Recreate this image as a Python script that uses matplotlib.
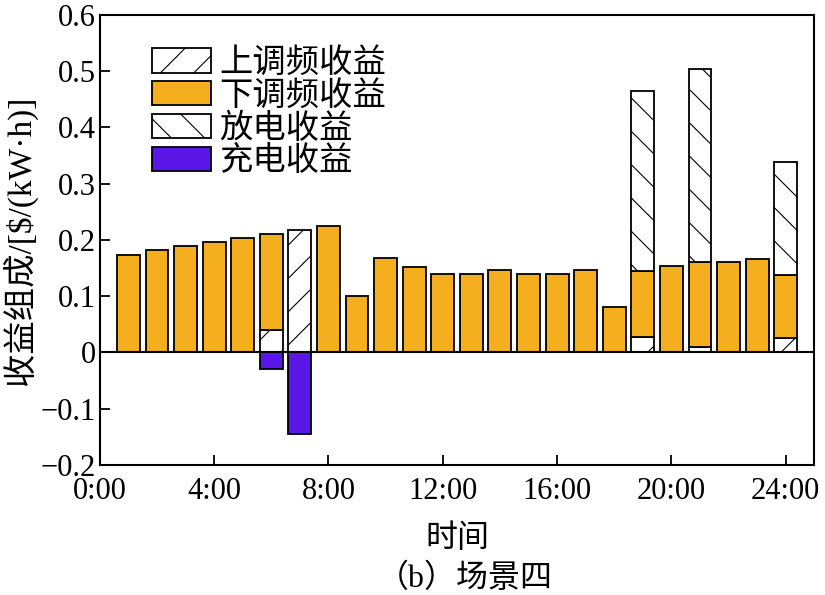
import numpy as np
import matplotlib
matplotlib.use('Agg')
import matplotlib.pyplot as plt
from matplotlib.patches import Patch

plt.rcParams['font.family'] = ['Liberation Serif', 'Noto Sans CJK SC']
plt.rcParams['hatch.linewidth'] = 0.8
plt.rcParams['axes.unicode_minus'] = True

# 数据
horas = np.arange(1, 25)
# 上调频收益
up_freq = [0, 0, 0, 0, 0, 0.040, 0.218, 0, 0, 0, 0, 0,
           0, 0, 0, 0, 0, 0, 0.028, 0, 0.010, 0, 0, 0.025]
# 下调频收益
down_freq = [0.173, 0.182, 0.189, 0.196, 0.203, 0.170, 0, 0.225, 0.100, 0.168, 0.152, 0.140,
             0.140, 0.147, 0.140, 0.140, 0.147, 0.081, 0.117, 0.153, 0.150, 0.160, 0.167, 0.113]
# 放电收益
discharge = [0, 0, 0, 0, 0, 0, 0, 0, 0, 0, 0, 0,
             0, 0, 0, 0, 0, 0, 0.320, 0, 0.344, 0, 0, 0.201]
# 充电收益
charge = [0, 0, 0, 0, 0, -0.030, -0.145, 0, 0, 0, 0, 0,
          0, 0, 0, 0, 0, 0, 0, 0, 0, 0, 0, 0]

rotulos_x = ['0:00', '4:00', '8:00', '12:00', '16:00', '20:00', '24:00']

laranja = '#F5AF1E'
roxo = '#5B17E8'

fig = plt.figure(figsize=(8.25, 5.95), dpi=100)
ax = fig.add_axes([0.121, 0.2185, 0.866, 0.7565])

up = np.array(up_freq)
down = np.array(down_freq)
dis = np.array(discharge)
ch = np.array(charge)
w = 0.8
kw = dict(width=w, edgecolor='black', linewidth=1.3)

def barras(vals, base, **opts):
    m = vals != 0
    ax.bar(horas[m], vals[m], bottom=base[m], **kw, **opts)

barras(up, np.zeros(24), color='white', hatch='/')
barras(down, up, color=laranja)
barras(dis, up + down, color='white', hatch='\\')
barras(ch, np.zeros(24), color=roxo)

ax.axhline(0, color='black', linewidth=1.5, zorder=3)

ax.set_xlim(0, 25)
ax.set_ylim(-0.2, 0.6)
ax.set_xticks(range(0, 25, 4))
ax.set_xticklabels(rotulos_x)
ax.set_yticks(np.arange(-0.2, 0.61, 0.1))
ax.set_yticklabels(['\u22120.2', '\u22120.1', '0', '0.1', '0.2', '0.3', '0.4', '0.5', '0.6'])
ax.tick_params(direction='in', length=7, width=1.3, labelsize=22)
ax.tick_params(axis='x', pad=9)
ax.tick_params(axis='y', pad=3)
for s in ax.spines.values():
    s.set_linewidth(1.5)

ax.set_ylabel('收益组成/[$/(kW·h)]', fontsize=24, labelpad=2)
fig.text(0.554, 0.094, '时间', ha='center', va='center', fontsize=23)
fig.text(0.564, 0.028, '（b）场景四', ha='center', va='center', fontsize=23)

handles = [Patch(facecolor='white', edgecolor='black', hatch='/', linewidth=1.3),
           Patch(facecolor=laranja, edgecolor='black', linewidth=1.3),
           Patch(facecolor='white', edgecolor='black', hatch='\\', linewidth=1.3),
           Patch(facecolor=roxo, edgecolor='black', linewidth=1.3)]
ax.legend(handles, ['上调频收益', '下调频收益', '放电收益', '充电收益'],
          loc='upper left', bbox_to_anchor=(0.055, 0.955), frameon=False,
          fontsize=24, handlelength=1.75, handleheight=0.75, labelspacing=0.05,
          handletextpad=0.25, borderaxespad=0)

fig.savefig('out.png', dpi=100)
